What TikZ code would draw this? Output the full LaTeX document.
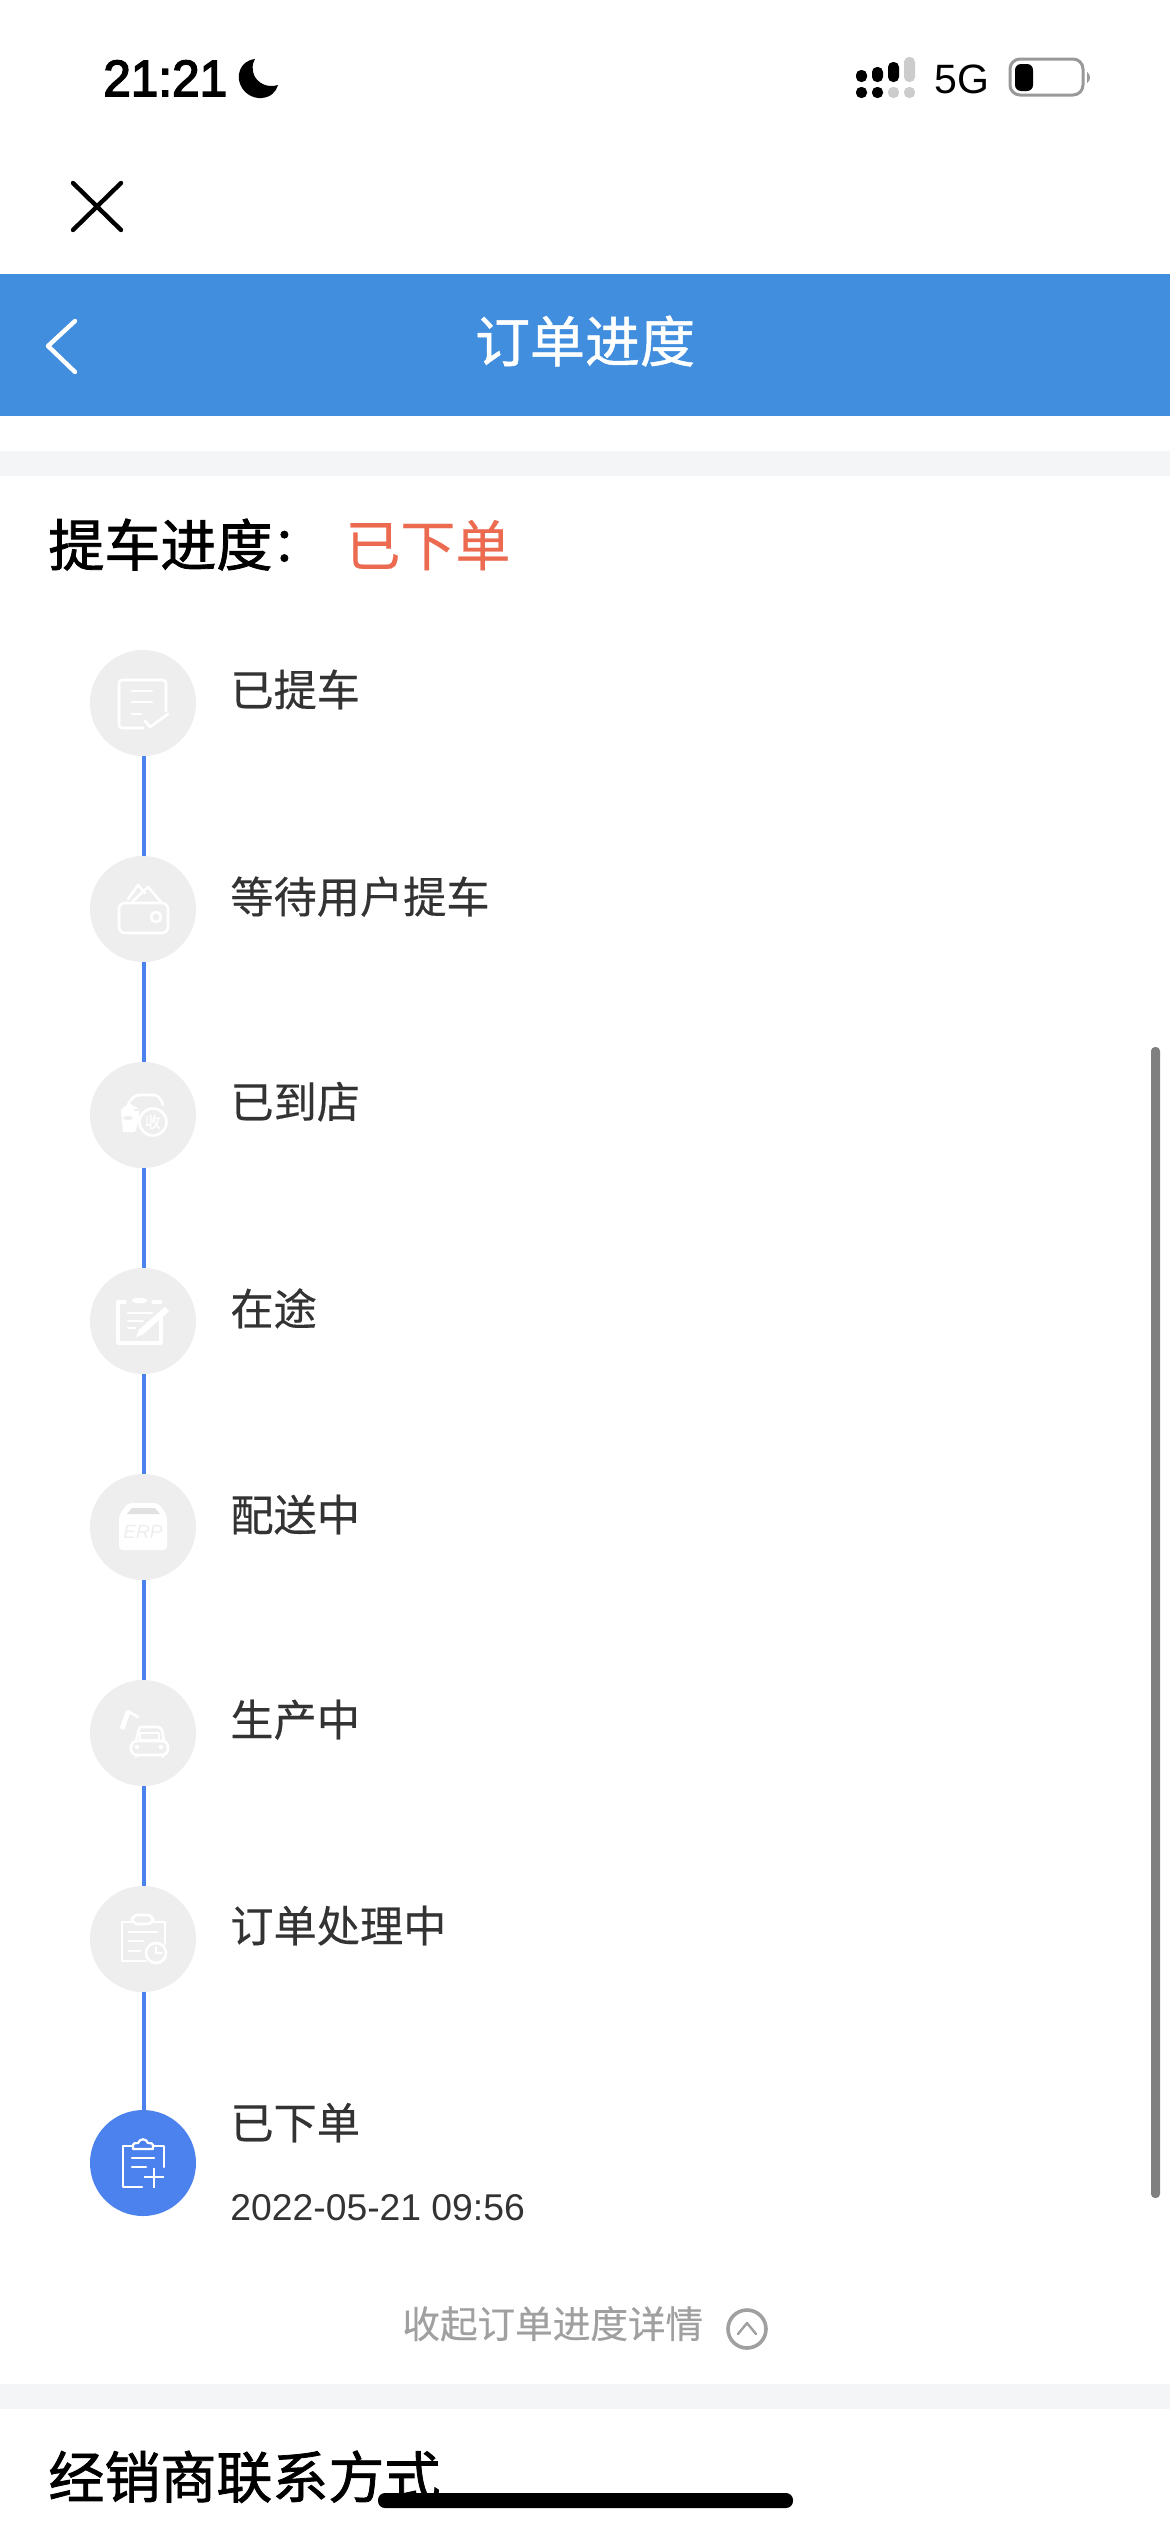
\documentclass[tikz,border=0pt]{standalone}
\usepackage{fontspec}
\setmainfont{Liberation Sans}
\newfontfamily\timefont[FakeBold=3]{Liberation Sans}
\newfontfamily\cjk[FakeBold=0.35]{Noto Sans CJK SC}
\newfontfamily\cjkm[FakeBold=1.4]{Noto Sans CJK SC}
\newfontfamily\cjkt[FakeBold=0.9]{Noto Sans CJK SC}
\newcommand{\pxfont}[2]{\fontsize{#1pt}{#2pt}\selectfont}
\definecolor{barblue}{HTML}{418DDE}
\definecolor{band}{HTML}{F4F5F7}
\definecolor{ink}{HTML}{333333}
\definecolor{orangered}{HTML}{EC6B50}
\definecolor{doneblue}{HTML}{4C82EE}
\definecolor{greycirc}{HTML}{EEEEEE}
\definecolor{hint}{HTML}{A0A0A0}
\definecolor{statusgrey}{HTML}{CCCCCC}
\definecolor{scrollgrey}{HTML}{808080}
\tikzset{
  stepdot/.style={circle,fill=greycirc,minimum size=53pt,inner sep=0pt},
  donedot/.style={circle,fill=doneblue,minimum size=53pt,inner sep=0pt},
  link/.style={draw=doneblue,line width=1.7pt},
  steplabel/.style={anchor=base west,inner sep=0pt,text=ink,font=\cjk\pxfont{21.6}{24}},
  heading/.style={anchor=base west,inner sep=0pt,text=black,font=\cjkm\pxfont{28}{32}},
  icon/.style={draw=white,line width=1.3pt,line cap=round,line join=round},
}
\begin{document}
\begin{tikzpicture}[x=0.5pt,y=-0.5pt]
\useasboundingbox (0,0) rectangle (1170,2532);
\fill[white] (0,0) rectangle (1170,2532);
% status bar
\node[anchor=base west,inner sep=0pt,font=\timefont\pxfont{25.5}{28},xscale=0.97] (time) at (103,96) {21:21};
\fill[black] (255,59) .. controls (240,61) and (238,74) .. (239,80)
  .. controls (241,92) and (252,99) .. (262,98) .. controls (271,97) and (276,92) .. (278,85)
  .. controls (268,88) and (258,84) .. (254,75) .. controls (252,69) and (252,64) .. (255,59) -- cycle;
\foreach \x/\c in {856/black,872/black,888/statusgrey,904/statusgrey}
  \fill[\c,rounded corners=2.5pt] (\x,87) rectangle (\x+11,98);
\fill[black,rounded corners=2.5pt] (856,70) rectangle (867,82);
\fill[black,rounded corners=2.5pt] (872,67) rectangle (883,82);
\fill[black,rounded corners=2.5pt] (888,62) rectangle (899,82);
\fill[statusgrey,rounded corners=2.5pt] (904,57) rectangle (915,82);
\node[anchor=base west,inner sep=0pt,font=\pxfont{20.5}{24}] (net) at (934,93) {5G};
\draw[draw=gray!80,line width=1.5pt,rounded corners=5pt] (1010,59) rectangle (1083,95);
\fill[black,rounded corners=3pt] (1015,64) rectangle (1033,91);
\fill[gray!80] (1087,72) .. controls (1091,74) and (1091,81) .. (1087,83) -- cycle;
% close
\draw[black,line width=2.2pt,line cap=round] (73,183) -- (121,230) (121,183) -- (73,230);
% bar
\fill[barblue] (0,274) rectangle (1170,416);
\draw[white,line width=2.2pt,line cap=round,line join=round] (75,321) -- (48,346) -- (75,372);
\node[anchor=center,inner sep=0pt,text=white,font=\cjkt\pxfont{27.5}{30}] (title) at (585,341) {订单进度};
% bands
\fill[band] (0,451) rectangle (1170,476);
\fill[band] (0,2384) rectangle (1170,2409);
% heading
\node[heading] (progress) at (48,566) {提车进度\raisebox{0.08em}{\pxfont{24}{28}：}};
\node[anchor=base west,inner sep=0pt,text=orangered,font=\cjk\pxfont{27.5}{32}] (state) at (345,566) {已下单};
% scrollbar
\fill[scrollgrey,rounded corners=2pt] (1151,1047) rectangle (1160,2198);
% circles
\node[stepdot] (c1) at (143,703) {};
\node[stepdot] (c2) at (143,909) {};
\node[stepdot] (c3) at (143,1115) {};
\node[stepdot] (c4) at (143,1321) {};
\node[stepdot] (c5) at (143,1527) {};
\node[stepdot] (c6) at (143,1733) {};
\node[stepdot] (c7) at (143,1939) {};
\node[donedot] (c8) at (143,2163) {};
\foreach \a/\b in {c1/c2,c2/c3,c3/c4,c4/c5,c5/c6,c6/c7,c7/c8}
  \draw[link] ([xshift=0.5pt]\a.south) -- ([xshift=0.5pt]\b.north);
% labels
\node[steplabel] (l1) at (230,706) {已提车};
\node[steplabel] (l2) at (230,913) {等待用户提车};
\node[steplabel] (l3) at (230,1118) {已到店};
\node[steplabel] (l4) at (230,1325) {在途};
\node[steplabel] (l5) at (230,1531) {配送中};
\node[steplabel] (l6) at (230,1736) {生产中};
\node[steplabel] (l7) at (230,1942) {订单处理中};
\node[steplabel] (l8) at (230,2139) {已下单};
\node[anchor=base west,inner sep=0pt,text=ink,font=\pxfont{18.65}{22}] (date) at (230,2220) {2022-05-21 09:56};
% icon 1
\begin{scope}[shift={(c1.center)}]
\draw[icon] (0,25) -- (-20,25) .. controls (-23,25) and (-24,24) .. (-24,21) -- (-24,-19) .. controls (-24,-22) and (-23,-23) .. (-20,-23) -- (19,-23) .. controls (22,-23) and (23,-22) .. (23,-19) -- (23,8);
\draw[icon] (-11,-12) -- (9,-12) (-11,-1) -- (9,-1) (-11,11) -- (-2,11);
\draw[icon] (2,18) -- (7,24) -- (25,11);
\end{scope}
% icon 2
\begin{scope}[shift={(c2.center)}]
\draw[icon,rounded corners=3pt] (-24,-6) rectangle (25,24);
\draw[icon] (-15,-10) -- (-5,-24) -- (2,-16);
\draw[icon] (-10,-8) -- (5,-22) -- (18,-7);
\draw[icon] (13,8) circle[radius=5];
\end{scope}
% icon 3
\begin{scope}[shift={(c3.center)}]
\draw[icon] (-15,-10) .. controls (-12,-17) and (-8,-20) .. (-3,-20) -- (11,-20) .. controls (16,-20) and (19,-14) .. (20,-10);
\fill[white] (-22,-5) -- (-14,-12) -- (-4,-6) -- (-4,5) -- (-8,17) -- (-20,17) -- cycle;
\fill[greycirc] (-15,3) ellipse[x radius=5,y radius=2];
\draw[greycirc,line width=1pt] (-9,-5) -- (-4,-5);
\draw[icon,fill=greycirc] (10,7) circle[radius=13.5];
\node[inner sep=0pt,text=white,font=\cjk\pxfont{8}{9}] (shou) at (10,7) {收};
\end{scope}
% icon 4
\begin{scope}[shift={(c4.center)}]
\draw[icon,line width=1.6pt] (18,-5) -- (18,22) -- (-25,22) -- (-25,-19) -- (-18,-19) (10,-19) -- (18,-19);
\fill[white,rounded corners=2pt] (-11,-23) rectangle (4,-18);
\draw[icon] (-15,-8) -- (9,-8) (-15,0) -- (0,0) (-15,7) -- (-8,7);
\draw[icon,line width=3pt,line cap=butt] (-3,12) -- (24,-12);
\fill[white] (-7,16) -- (-4,9.5) -- (-0.5,13.5) -- cycle;
\end{scope}
% icon 5
\begin{scope}[shift={(c5.center)}]
\path[fill=white,rounded corners=2pt] (-24,-12) -- (-15,-24) -- (15,-24) -- (24,-12) -- (24,23) -- (-24,23) -- cycle;
\fill[greycirc!88!gray] (-11,-19) -- (12,-19) -- (17,-13) -- (-16,-13) -- cycle;
\node[inner sep=0pt,text=greycirc,font=\itshape\pxfont{9.5}{11}] (erp) at (0,5) {ERP};
\end{scope}
% icon 6
\begin{scope}[shift={(c6.center)}]
\draw[icon,line width=2.4pt,line cap=butt] (-21,-4) -- (-15,-21);
\draw[icon] (-15,-22) -- (-5,-16);
\draw[icon] (-7,8) -- (-4,-4) .. controls (-3,-6) and (-2,-6) .. (0,-6) -- (14,-6) .. controls (17,-6) and (18,-5) .. (19,-3) -- (21,8);
\draw[icon,rounded corners=3pt] (-12,8) rectangle (25,22);
\draw[icon,line width=1pt] (-3,0) rectangle (16,7);
\fill[white] (-6,14) circle[radius=2.2] (18,14) circle[radius=2.2];
\draw[icon] (-7,22) -- (-7,24) (20,22) -- (20,24);
\end{scope}
% icon 7
\begin{scope}[shift={(c7.center)}]
\draw[icon] (3,22) -- (-21,22) -- (-21,-17) -- (-11,-17) (10,-17) -- (22,-17) -- (22,5);
\draw[icon,rounded corners=3pt] (-11,-24) rectangle (10,-15);
\draw[icon] (-14,-7) -- (14,-7) (-14,2) -- (0,2) (-14,12) -- (-3,12);
\draw[icon] (13,14) circle[radius=10];
\draw[icon,line width=.8pt] (13,8) -- (13,14) -- (19,14);
\end{scope}
% icon 8
\begin{scope}[shift={(c8.center)}]
\draw[icon] (-1,24) -- (-20,24) -- (-20,-17) -- (-10,-17) (10,-17) -- (21,-17) -- (21,4);
\draw[icon,line width=1.1pt] (-10,-14) -- (-10,-18) .. controls (-10,-20) and (-8,-20) .. (-5,-20) .. controls (-3,-25) and (3,-25) .. (5,-20) .. controls (8,-20) and (10,-20) .. (10,-18) -- (10,-14) -- cycle;
\draw[icon] (-11,-5) -- (11,-5) (-11,4) -- (3,4);
\draw[icon,line cap=butt] (1,14) -- (21,14) (11,5) -- (11,25);
\end{scope}
% collapse
\node[anchor=base west,inner sep=0pt,text=hint,font=\cjk\pxfont{18.8}{22}] (collapse) at (402,2338) {收起订单进度详情};
\node[circle,draw=hint,line width=1.8pt,minimum size=19pt,inner sep=0pt] (toggle) at (747,2329) {};
\draw[hint,line width=1.2pt,line cap=round,line join=round] (738,2334) -- (747,2323) -- (756,2334);
% dealer
\node[heading] (dealer) at (48,2498) {经销商联系方式};
\fill[black,rounded corners=3.5pt] (378,2493) rectangle (793,2508);
\end{tikzpicture}
\end{document}
